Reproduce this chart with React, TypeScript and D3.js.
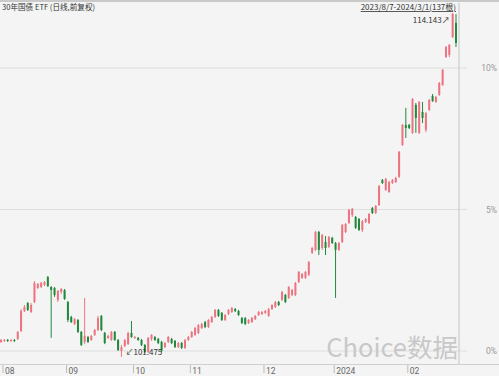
import React from 'react';
import * as d3 from 'd3';

const opens = [102.03,102.07,102.10,102.07,102.10,102.14,102.43,103.17,103.46,103.13,103.50,104.02,104.05,104.13,104.42,104.05,104.02,103.58,103.87,103.94,103.50,102.95,102.69,102.84,102.40,102.03,102.21,102.10,102.29,102.47,102.99,102.36,102.18,102.10,102.40,102.10,101.70,101.88,101.95,102.36,102.18,102.18,102.10,101.92,101.66,102.14,102.21,102.14,102.03,101.84,102.03,102.14,102.07,101.84,101.99,101.81,102.10,102.21,102.29,102.36,102.54,102.76,102.58,102.76,102.95,103.21,103.10,102.84,103.06,103.13,103.24,103.17,102.91,102.91,102.73,102.76,102.87,103.02,103.06,103.10,102.99,103.24,103.32,103.50,103.58,103.76,103.65,103.76,103.76,104.24,104.39,104.39,104.50,105.31,105.42,106.08,105.49,105.71,105.53,105.86,105.67,105.42,105.71,106.08,106.41,106.70,106.63,106.56,106.15,106.45,106.41,106.96,106.78,107.07,107.99,107.63,107.55,107.88,107.92,108.11,109.28,110.02,110.02,109.73,110.76,109.73,110.50,109.84,110.57,111.09,110.87,111.13,111.49,112.52,112.60,113.26,113.78];
const closes = [102.10,102.10,102.07,102.10,102.07,102.40,103.17,103.32,103.21,103.39,104.20,104.16,104.20,104.24,104.09,103.94,103.76,103.91,103.98,103.61,102.84,102.76,102.87,102.40,101.92,102.25,102.03,102.25,102.47,102.91,102.47,101.99,102.25,102.40,102.10,101.73,101.84,102.10,102.36,102.21,102.21,102.10,101.92,101.66,102.18,102.29,102.10,101.99,101.70,101.99,102.21,101.99,101.84,101.99,101.81,102.10,102.21,102.40,102.54,102.65,102.69,102.58,102.84,102.95,103.21,102.99,102.84,103.02,103.21,103.28,103.17,103.02,102.73,102.69,102.84,102.91,102.99,103.13,103.13,103.17,103.24,103.39,103.50,103.39,103.87,103.50,104.05,103.94,104.20,104.61,104.53,104.61,104.97,105.49,106.08,105.42,105.97,105.49,105.90,105.67,105.42,105.67,106.34,106.37,106.89,106.93,106.23,106.15,106.48,106.56,106.74,106.78,107.04,107.77,107.88,108.03,107.92,107.99,108.07,109.03,110.02,109.91,109.91,110.98,110.28,110.87,110.28,110.46,110.94,110.90,111.05,111.57,112.05,112.89,112.97,114.11,113.04];
const highs = [102.14,102.14,102.14,102.14,102.14,102.43,103.24,103.39,103.50,103.46,104.27,104.20,104.24,104.27,104.46,104.09,104.05,103.94,104.02,103.98,103.54,102.99,102.91,102.87,102.43,103.65,102.25,102.29,102.51,102.99,103.02,102.40,102.29,102.43,102.43,102.14,101.92,102.14,102.40,102.80,102.25,102.21,102.14,101.95,102.21,102.32,102.25,102.18,102.07,102.03,102.25,102.18,102.10,102.03,102.03,102.14,102.25,102.43,102.58,102.69,102.73,102.80,102.87,102.99,103.24,103.24,103.13,103.06,103.24,103.32,103.28,103.21,102.95,102.95,102.87,102.95,103.02,103.17,103.17,103.21,103.28,103.42,103.54,103.54,103.91,103.80,104.09,103.98,104.24,104.64,104.57,104.64,105.01,105.53,106.12,106.12,106.01,105.93,105.93,105.90,105.71,105.71,106.37,106.41,106.93,106.96,106.67,106.59,106.52,106.59,106.78,107.00,107.07,107.81,108.03,108.07,107.96,108.03,108.11,109.06,110.06,110.65,110.06,111.01,110.83,110.90,110.87,110.50,110.98,111.16,111.09,111.60,112.08,112.93,113.00,114.143,114.10];
const lows = [101.99,102.03,102.03,102.03,102.03,102.10,102.40,103.13,103.17,103.10,103.46,103.98,104.02,104.09,104.05,102.18,103.69,103.50,103.80,103.58,102.76,102.73,102.65,102.36,101.88,101.95,101.99,102.07,102.25,102.43,102.43,101.95,102.14,102.07,102.07,101.70,101.475,101.84,101.92,102.18,102.14,102.07,101.88,101.62,101.62,102.07,102.07,101.95,101.66,101.81,101.99,101.95,101.81,101.81,101.77,101.77,102.07,102.18,102.25,102.32,102.51,102.54,102.54,102.73,102.91,102.95,102.80,102.80,103.02,103.10,103.13,102.99,102.69,102.65,102.69,102.73,102.84,102.99,103.02,103.06,102.95,103.21,103.28,103.35,103.54,103.46,103.61,103.72,103.72,104.20,104.35,104.35,104.46,105.27,105.38,105.23,105.42,105.23,105.49,105.64,103.65,105.38,105.67,106.04,106.37,106.63,106.19,106.12,106.08,106.41,106.37,106.74,106.74,107.04,107.85,107.59,107.52,107.85,107.88,108.07,109.25,109.54,109.87,109.69,109.73,109.69,110.09,109.76,110.54,110.87,110.83,111.09,111.46,112.49,112.52,113.22,112.89];

const tickIndex = [0, 19, 39, 56, 78, 99, 121];
const tickLabels = ['08', '09', '10', '11', '12', '2024', '02'];
const pctTicks = [0, 5, 10];

const W = 499;
const H = 376;
const PLOT_R = 457;
const RED = '#ec7480';
const GREEN = '#1f8a3c';
const FONT = '"Noto Sans CJK SC", "Noto Sans", sans-serif';
const LATIN = 'Roboto, "Noto Sans", sans-serif';

export default function App() {
  const idx = d3.range(opens.length);
  const x = d3.scaleBand<number>().domain(idx).range([0, PLOT_R]).paddingInner(0.4);
  const bw = x.bandwidth();
  const cx = (i: number) => (x(i) as number) + bw / 2;
  const y = d3.scaleLinear().domain([101.475, 114.143]).range([357, 13]);
  const yp = d3.scaleLinear().domain([0, 10]).range([351, 68]);

  const lowI = d3.minIndex(lows);
  const highI = d3.maxIndex(highs);

  return (
    <svg width={W} height={H} style={{ position: 'fixed', left: 0, top: 0, background: '#f4f4f4' }} fontFamily={FONT}>
      <rect x={0} y={0} width={W} height={H} fill="#f4f4f4" />
      <line x1={0} x2={W} y1={1} y2={1} stroke="#c9c9c9" strokeWidth={2} />
      {pctTicks.map((p) => (
        <g key={p}>
          <line x1={0} x2={467} y1={yp(p)} y2={yp(p)} stroke="#dedede" strokeWidth={1} />
          <text x={497} y={yp(p) + 3} fontSize={8.5} fill="#999" textAnchor="end" fontFamily={LATIN}>{p}%</text>
        </g>
      ))}
      <text x={PLOT_R + 1} y={357} fontSize={25.5} fill="#c8c8c8" textAnchor="end" fontFamily={FONT}>Choice数据</text>
      <line x1={459} x2={459} y1={3} y2={364} stroke="#c4c4c4" strokeWidth={1} />
      <line x1={0} x2={W} y1={364.5} y2={364.5} stroke="#d0d0d0" strokeWidth={1} />
      {tickIndex.map((ti, k) => (
        <g key={ti}>
          <line x1={cx(ti) + 2} x2={cx(ti) + 2} y1={365} y2={373} stroke="#bbb" />
          <text x={cx(ti) + 4} y={374} fontSize={8.5} fill="#666" fontFamily={LATIN}>{tickLabels[k]}</text>
        </g>
      ))}
      {idx.map((i) => {
        const up = closes[i] >= opens[i];
        const col = up ? RED : GREEN;
        const top = y(Math.max(opens[i], closes[i]));
        const bot = y(Math.min(opens[i], closes[i]));
        return (
          <g key={i}>
            <line x1={cx(i)} x2={cx(i)} y1={y(highs[i])} y2={y(lows[i])} stroke={col} strokeWidth={1} />
            <rect x={x(i)} y={top} width={bw} height={Math.max(1, bot - top)} fill={col} />
          </g>
        );
      })}
      <text x={cx(lowI) + 4} y={y(lows[lowI]) - 2} fontSize={8} fill="#333">↙{lows[lowI].toFixed(3)}</text>
      <text x={cx(highI) - 3} y={y(highs[highI]) + 10} fontSize={8} fill="#333" textAnchor="end">{highs[highI].toFixed(3)}↗</text>
      <text x={2} y={10} fontSize={7.6} fill="#333">30年国债 ETF (日线,前复权)</text>
      <text x={PLOT_R - 1} y={10} fontSize={8} fill="#333" textAnchor="end" textDecoration="underline">2023/8/7-2024/3/1(137根)</text>
    </svg>
  );
}
